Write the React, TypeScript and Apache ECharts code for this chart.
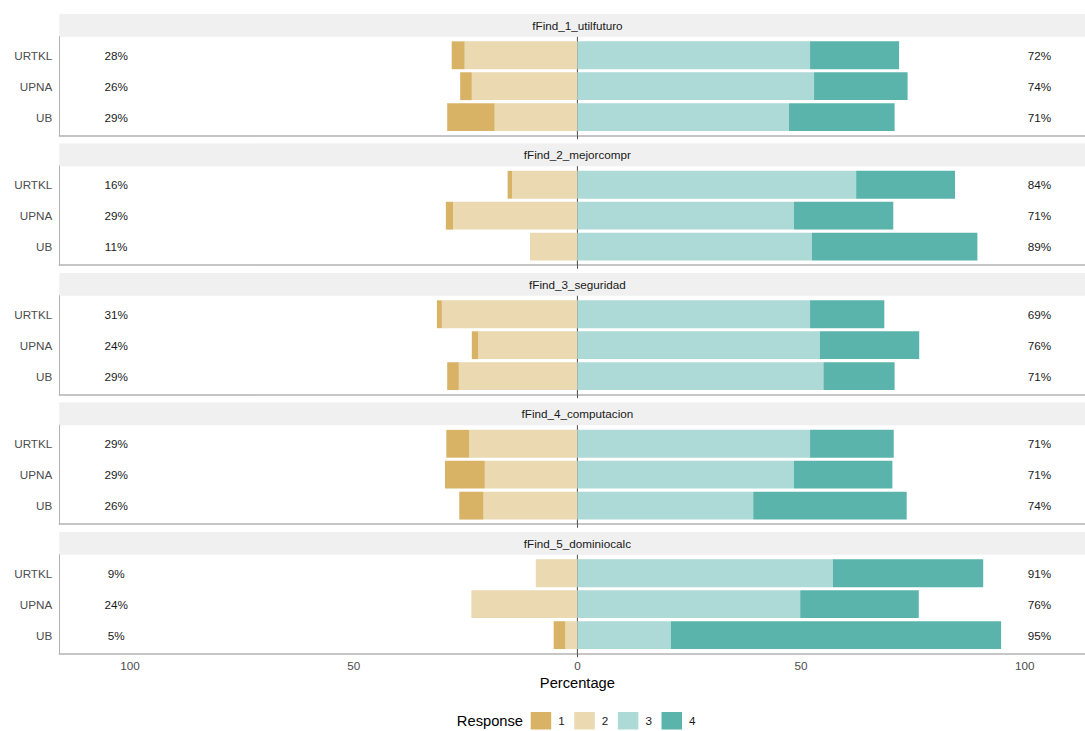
import React, { useEffect, useRef } from "react";
import * as echarts from "echarts";

// ---------- data ----------
const categories = ["URTKL", "UPNA", "UB"];
const facets = [
  "fFind_1_utilfuturo",
  "fFind_2_mejorcompr",
  "fFind_3_seguridad",
  "fFind_4_computacion",
  "fFind_5_dominiocalc",
];
const responses = ["1", "2", "3", "4"];
// percentages per facet, per category (URTKL, UPNA, UB)
const level1 = [
  [2.9, 2.6, 10.6],
  [1.0, 1.6, 0],
  [1.1, 1.4, 2.6],
  [5.1, 8.9, 5.4],
  [0, 0, 2.6],
];
const level2 = [
  [25.2, 23.6, 18.5],
  [14.6, 27.8, 10.6],
  [30.3, 22.2, 26.5],
  [24.2, 20.7, 21.0],
  [9.3, 23.7, 2.7],
];
const level3 = [
  [52.0, 52.9, 47.3],
  [62.3, 48.4, 52.4],
  [52.0, 54.2, 55.0],
  [52.0, 48.4, 39.3],
  [57.1, 49.8, 20.9],
];
const level4 = [
  [19.9, 20.9, 23.6],
  [22.1, 22.2, 37.0],
  [16.6, 22.2, 15.9],
  [18.7, 22.0, 34.3],
  [33.6, 26.5, 73.8],
];
const leftPct = [
  [28, 26, 29],
  [16, 29, 11],
  [31, 24, 29],
  [29, 29, 26],
  [9, 24, 5],
];
const rightPct = [
  [72, 74, 71],
  [84, 71, 89],
  [69, 76, 71],
  [71, 71, 74],
  [91, 76, 95],
];
const xTickValues = [-100, -50, 0, 50, 100];

// ---------- style / layout ----------
const FONT = '"Liberation Sans", Arial, Helvetica, sans-serif';
const COLORS = ["#D8B365", "#EAD9B1", "#ADD9D6", "#5AB4AC"];
const X_MIN = -115.8;
const X_MAX = 115.8;
const LEFT_LABEL_X = -103.1;
const RIGHT_LABEL_X = 103.3;
const GRID_LEFT = 59.3;
const GRID_WIDTH = 1036.2;
const CHART_W = 1100;
const PANEL_H = 99;
const STRIP_H = 22.7;
const FIRST_STRIP_TOP = 14;
const PERIOD = 129.5;
const AXIS_GRAY = "#b3b3b3";

function buildOption() {
  const grids: any[] = [];
  const xAxes: any[] = [];
  const yAxes: any[] = [];
  const series: any[] = [];
  const graphics: any[] = [];
  const last = facets.length - 1;

  const barRender = (params: any, api: any) => {
    const y = api.value(0);
    const x0 = api.value(1);
    const x1 = api.value(2);
    const p0 = api.coord([x0, y]);
    const p1 = api.coord([x1, y]);
    const h = api.size([0, 0.9])[1];
    return {
      type: "rect",
      shape: {
        x: Math.min(p0[0], p1[0]),
        y: p0[1] - h / 2,
        width: Math.abs(p1[0] - p0[0]),
        height: h,
      },
      style: { fill: api.visual("color") },
    };
  };

  const textRender = (params: any, api: any) => {
    const p = api.coord([api.value(0), api.value(1)]);
    return {
      type: "text",
      x: p[0],
      y: p[1],
      style: {
        text: String(api.value(2)) + "%",
        fill: "#1a1a1a",
        fontSize: 11.7,
        fontFamily: FONT,
        align: "center",
        verticalAlign: "middle",
      },
    };
  };

  facets.forEach((name, f) => {
    const stripTop = FIRST_STRIP_TOP + f * PERIOD;
    const panelTop = stripTop + STRIP_H;
    grids.push({ left: GRID_LEFT, top: panelTop, width: GRID_WIDTH, height: PANEL_H });
    xAxes.push({
      type: "value",
      gridIndex: f,
      min: X_MIN,
      max: X_MAX,
      splitLine: { show: false },
      axisLine: { show: true, onZero: false, lineStyle: { color: AXIS_GRAY, width: 1.5 } },
      axisTick: { show: true, customValues: [0], length: 3.5, lineStyle: { color: "#4d4d4d" } },
      axisLabel: {
        show: f === last,
        customValues: xTickValues,
        formatter: (v: number) => String(Math.abs(v)),
        color: "#4d4d4d",
        fontSize: 11.7,
        fontFamily: FONT,
        margin: 6,
      },
      name: f === last ? "Percentage" : "",
      nameLocation: "middle",
      nameGap: 22,
      nameTextStyle: { color: "#000", fontSize: 14.7, fontFamily: FONT },
    });
    yAxes.push({
      type: "value",
      gridIndex: f,
      min: 0.4,
      max: 3.6,
      inverse: true,
      splitLine: { show: false },
      axisTick: { show: false },
      axisLine: { show: true, onZero: false, lineStyle: { color: AXIS_GRAY, width: 1 } },
      axisLabel: {
        customValues: [1, 2, 3],
        formatter: (v: number) => categories[Math.round(v) - 1] ?? "",
        color: "#4d4d4d",
        fontSize: 11.7,
        fontFamily: FONT,
        margin: 7,
      },
    });

    // zero line
    series.push({
      type: "line",
      name: "zero",
      xAxisIndex: f,
      yAxisIndex: f,
      data: [
        [0, 0.4],
        [0, 3.6],
      ],
      symbol: "none",
      silent: true,
      z: 1,
      lineStyle: { color: "#4d4d4d", width: 1 },
    });

    // stacked segments
    const segs: number[][][] = [[], [], [], []];
    categories.forEach((_, c) => {
      const a = level1[f][c];
      const b = level2[f][c];
      const d = level3[f][c];
      const e = level4[f][c];
      segs[1].push([c + 1, 0, -b]);
      segs[0].push([c + 1, -b, -(a + b)]);
      segs[2].push([c + 1, 0, d]);
      segs[3].push([c + 1, d, d + e]);
    });
    [1, 0, 2, 3].forEach((k) => {
      series.push({
        type: "custom",
        name: responses[k],
        xAxisIndex: f,
        yAxisIndex: f,
        z: 2,
        itemStyle: { color: COLORS[k] },
        encode: { x: [1, 2], y: 0 },
        renderItem: barRender,
        data: segs[k],
      });
    });

    // percentage labels
    const labelData: any[] = [];
    categories.forEach((_, c) => {
      labelData.push([LEFT_LABEL_X, c + 1, leftPct[f][c]]);
      labelData.push([RIGHT_LABEL_X, c + 1, rightPct[f][c]]);
    });
    series.push({
      type: "custom",
      name: "labels",
      xAxisIndex: f,
      yAxisIndex: f,
      z: 3,
      silent: true,
      encode: { x: 0, y: 1 },
      renderItem: textRender,
      data: labelData,
    });

    // strip
    graphics.push({
      type: "rect",
      silent: true,
      shape: { x: GRID_LEFT, y: stripTop, width: GRID_WIDTH, height: STRIP_H },
      style: { fill: "#f0f0f0" },
    });
    graphics.push({
      type: "text",
      silent: true,
      x: GRID_LEFT + GRID_WIDTH / 2,
      y: stripTop + STRIP_H / 2,
      style: {
        text: name,
        fill: "#1a1a1a",
        fontSize: 11.7,
        fontFamily: FONT,
        align: "center",
        verticalAlign: "middle",
      },
    });
  });

  graphics.push({
    type: "text",
    silent: true,
    x: 523,
    y: 721,
    style: {
      text: "Response",
      fill: "#000",
      fontSize: 14.7,
      fontFamily: FONT,
      align: "right",
      verticalAlign: "middle",
    },
  });

  return {
    animation: false,
    backgroundColor: "#ffffff",
    grid: grids,
    xAxis: xAxes,
    yAxis: yAxes,
    series,
    graphic: graphics,
    legend: {
      data: responses,
      left: 530.7,
      top: 712,
      padding: 0,
      orient: "horizontal",
      icon: "rect",
      itemWidth: 20.5,
      itemHeight: 17.5,
      itemGap: 9.6,
      selectedMode: false,
      textStyle: { color: "#1a1a1a", fontSize: 11.7, fontFamily: FONT, padding: [0, 0, 0, 2] },
    },
  };
}

export default function App() {
  const ref = useRef<HTMLDivElement>(null);
  useEffect(() => {
    document.body.style.margin = "0";
    const chart = echarts.init(ref.current as HTMLDivElement, null, { renderer: "svg" });
    chart.setOption(buildOption() as any);
    return () => {
      chart.dispose();
    };
  }, []);
  return (
    <div style={{ width: 1085, height: 731, overflow: "hidden" }}>
      <div ref={ref} style={{ width: CHART_W, height: 731 }} />
    </div>
  );
}
